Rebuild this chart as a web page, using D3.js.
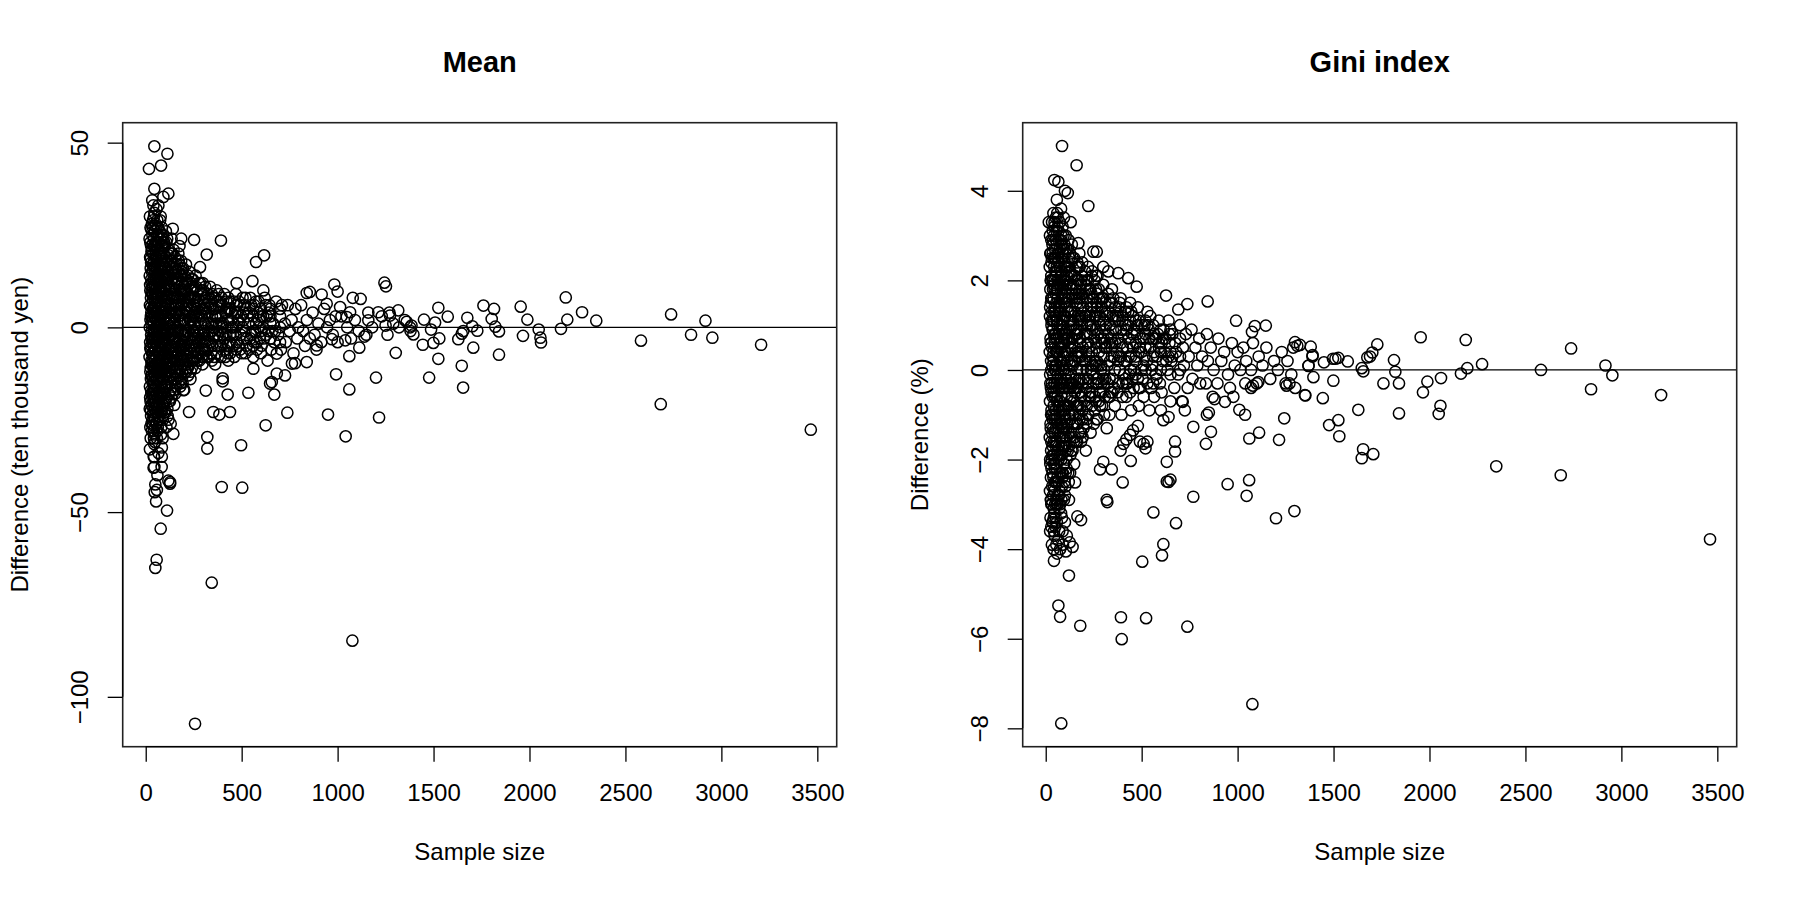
<!DOCTYPE html>
<html>
<head>
<meta charset="utf-8">
<script src="https://cdn.jsdelivr.net/npm/d3@7"></script>
<style>
  html, body { margin: 0; padding: 0; background: #fff; }
  svg { display: block; font-family: "Liberation Sans", Arial, Helvetica, sans-serif; }
</style>
</head>
<body>
<svg id="chart" width="1800" height="900"></svg>
<script>
// ---------------- DATA ----------------
const panelTitles = ["Mean", "Gini index"];
const yAxisTitles = ["Difference (ten thousand yen)", "Difference (%)"];
const xAxisTitle = "Sample size";
const xTicks = [0, 500, 1000, 1500, 2000, 2500, 3000, 3500];
const meanTicks = [-100, -50, 0, 50];
const giniTicks = [-8, -6, -4, -2, 0, 2, 4];

// Mean panel: [sample size, difference (ten thousand yen)]
const meanCore = [
[22,30],[25,27],[20,24],[28,22],[23,19],[26,16],[21,14],[30,12],[24,10],[27,8],[22,6],[29,4],[25,2],[21,0],[28,-2],[23,-4],[26,-6],[20,-8],[30,-10],[24,-12],[27,-14],[22,-16],[29,-18],[25,-20],[21,-22],[28,-24],[24,-27],[26,-30],[22,-33],
[40,33],[45,31],[38,29],[47,26],[42,24],[49,21],[39,20],[44,18],[48,15],[41,13],[46,11],[38,9],[50,7],[43,5],[47,3],[40,1],[45,-1],[49,-3],[42,-5],[38,-7],[46,-9],[41,-11],[48,-13],[44,-15],[39,-17],[47,-19],[43,-21],[40,-23],[46,-25],[42,-28],[48,-31],[44,-35],[41,-38],
[56,32],[60,29],[65,27],[58,25],[68,23],[62,21],[55,19],[66,17],[59,16],[63,14],[70,12],[57,11],[64,9],[60,7],[68,5],[55,4],[62,2],[67,0],[58,-1],[65,-3],[61,-5],[69,-7],[56,-8],[63,-10],[59,-12],[67,-14],[62,-16],[57,-18],[65,-20],[60,-22],[68,-24],[63,-27],[58,-30],[66,-34],[61,-40],
[78,30],[85,27],[90,25],[76,24],[82,22],[93,20],[79,18],[88,17],[84,15],[95,13],[77,12],[86,10],[91,9],[80,7],[89,5],[83,4],[94,2],[78,1],[87,-1],[92,-2],[81,-4],[90,-6],[76,-7],[85,-9],[94,-11],[80,-12],[88,-14],[83,-16],[92,-18],[78,-19],[86,-21],[90,-24],[81,-27],[88,-30],[84,-35],
[105,26],[112,24],[100,22],[118,21],[108,19],[122,17],[103,16],[115,15],[110,13],[120,11],[101,10],[113,8],[107,7],[124,5],[117,4],[104,3],[111,1],[121,0],[106,-2],[116,-3],[102,-5],[119,-6],[109,-8],[114,-10],[123,-11],[105,-12],[117,-14],[110,-16],[121,-18],[103,-20],[113,-22],[119,-25],[108,-27],
[135,24],[145,21],[152,19],[132,18],[140,16],[158,15],[137,13],[149,12],[155,10],[131,9],[143,8],[151,6],[138,5],[157,4],[134,2],[146,1],[154,-1],[139,-2],[148,-4],[133,-5],[156,-6],[142,-8],[150,-9],[136,-11],[153,-12],[144,-14],[131,-15],[158,-16],[141,-18],[149,-21],
[170,20],[185,18],[195,16],[168,15],[178,14],[190,12],[173,11],[198,10],[182,9],[166,8],[193,7],[176,5],[188,4],[170,3],[197,2],[181,1],[167,-1],[191,-2],[175,-3],[186,-5],[199,-6],[171,-7],[183,-8],[194,-10],[178,-11],[168,-13],[189,-14],[180,-16],[196,-17],
[210,17],[228,15],[245,13],[215,12],[236,11],[205,10],[222,9],[248,8],[213,7],[232,6],[241,5],[208,4],[226,3],[244,2],[218,1],[235,0],[206,-1],[249,-2],[224,-3],[212,-4],[238,-5],[217,-7],[246,-8],[229,-9],[209,-10],[240,-11],[221,-13],[233,-14],
[260,14],[285,12],[310,11],[270,10],[298,9],[258,8],[318,8],[280,7],[305,6],[265,5],[292,5],[315,4],[275,3],[300,2],[258,1],[288,1],[320,0],[268,-1],[295,-2],[312,-3],[278,-4],[262,-5],[302,-6],[286,-7],[316,-8],[270,-9],[296,-10],[259,-11],
[335,11],[370,10],[410,9],[350,8],[395,8],[440,7],[340,6],[380,6],[425,5],[360,5],[448,4],[345,3],[390,3],[430,2],[365,1],[405,1],[445,0],[338,-1],[385,-1],[420,-2],[355,-3],[400,-4],[438,-4],[372,-5],[412,-6],[342,-7],[392,-8],[430,-9],[362,-10],
[470,9],[520,8],[575,7],[490,6],[550,6],[600,5],[465,4],[510,4],[560,3],[590,2],[480,2],[535,1],[455,0],[505,0],[570,-1],[495,-2],[545,-3],[595,-3],[475,-4],[525,-5],[580,-6],[500,-7],[560,-8],[462,-8],
[620,8],[680,7],[740,6],[650,5],[710,6],[780,5],[630,3],[700,3],[760,2],[665,1],[725,1],[795,0],[640,-1],[690,-2],[750,-1],[615,-3],[670,-4],[730,-4],[790,-3],[655,-6],[705,-6],[770,-7],[635,-9],
[810,6],[870,4],[930,5],[990,3],[840,2],[900,1],[960,2],[820,-1],[880,-2],[945,0],[855,-3],[915,-4],[975,-2],[830,-5],[890,-6],
[1020,3],[1090,2],[1160,4],[1230,3],[1290,1],[1350,2],[1050,0],[1110,-1],[1180,0],[1260,-2],[1320,0],[1380,-1],[1070,-3],[1150,-2],[1270,4]
];
const meanCore2 = [
[33,28],[35,25],[32,21],[36,17],[33,15],[35,11],[32,9],[36,5],[34,3],[32,-1],[36,-3],[33,-7],[35,-9],[32,-13],[36,-15],[34,-19],[33,-21],[35,-25],[32,-28],
[52,28],[53,23],[51,19],[54,17],[52,13],[53,9],[51,6],[54,2],[52,0],[53,-4],[51,-6],[54,-10],[52,-12],[53,-16],[51,-20],[54,-23],[52,-26],
[73,26],[74,20],[72,16],[75,13],[73,10],[74,6],[72,3],[75,-1],[73,-3],[74,-6],[72,-10],[75,-13],[73,-17],[74,-21],[72,-25],
[97,23],[99,18],[96,14],[98,11],[100,6],[97,3],[99,-1],[96,-4],[98,-8],[100,-13],[97,-16],[99,-20],[96,-23],
[127,20],[128,14],[126,10],[129,6],[127,2],[128,-2],[126,-5],[129,-9],[127,-13],[128,-17],[126,-20],
[162,17],[163,12],[161,8],[164,4],[162,0],[163,-4],[161,-8],[164,-11],[162,-14],
[202,14],[203,9],[201,5],[204,2],[202,-2],[203,-5],[201,-9],[204,-12],
[252,11],[253,6],[251,3],[254,-1],[252,-3],[253,-6],[251,-9],
[327,9],[328,4],[326,1],[329,-2],[327,-5],[328,-8],
[300,5],[285,-3],[350,0],[375,3],[420,7],[455,-2],[475,6],[510,-3],[530,3],[565,-4],[585,4],[610,0],[640,4],[575,1],[540,-6],[505,8],[415,-8],[375,7],[345,-5],[310,-4],[290,9],[265,-7],[245,-4],[230,8],[215,-11]
];
const meanCore3 = [
[29,26.5],[30,20.5],[28,17.5],[29,13],[30,9.5],[28,5.5],[29,1],[30,-3],[28,-5],[29,-9],[30,-13],[28,-17],[29,-21],[30,-26],
[43,30],[43,22],[44,16.5],[42,12],[43,8],[44,4],[42,-0.5],[43,-2],[44,-8],[42,-12],[43,-16],[44,-20],[42,-24],[43,-30],
[62,27],[61,23],[62,18],[63,12],[61,8],[62,5],[63,1],[61,-3],[62,-7],[63,-11],[61,-15],[62,-19],[63,-23],[61,-28],
[81,25],[80,20],[82,16],[80,11],[81,8],[82,3],[80,-2],[81,-6],[82,-10],[80,-15],[81,-18],[82,-23],
[88,22],[89,14],[88,8],[89,0],[88,-4],[89,-11],[88,-17],[89,-25],
[108,23],[115,18],[109,14],[114,9],[108,5],[115,1],[109,-4],[114,-7],[108,-11],[115,-15],[109,-19],[114,-24],
[140,20],[147,17],[139,13],[146,9],[140,6],[147,3],[139,-1],[146,-3],[140,-7],[147,-10],[139,-13],[146,-17],
[176,17],[184,14],[177,10],[185,6],[176,2],[184,-1],[177,-5],[185,-9],[176,-12],[184,-15],
[221,14],[233,12],[220,8],[234,8],[221,4],[233,2],[220,-1],[234,-2],[221,-5],[233,-7],[220,-11],[234,-12],
[276,12],[290,10],[308,8],[277,6],[291,3],[307,1],[276,-2],[290,-4],[308,-6],[276,-7],[292,-8],
[360,8],[380,9],[400,6],[420,4],[440,5],[362,3],[382,1],[402,-2],[422,0],[442,-2],[360,-2],[380,-3],[400,0],[420,-5],[440,-7],[370,-7],
[485,7],[520,5],[560,5],[600,3],[650,3],[700,5],[485,1],[520,-1],[560,-1],[600,-1],[650,-3],[700,0],[485,-5],[520,-7],[560,-5],[600,-7],[650,1],[700,-4],[545,8],[625,6],[675,-1],[510,2],[590,0]
];
const meanCore4 = [
[24,23],[26,18.5],[23,11.5],[27,3],[24,-5.5],[26,-11],[23,-19],[27,-22.5],
[37,27],[36,22.5],[38,15.5],[37,7.5],[36,2],[38,-4],[37,-10.5],[36,-14],[38,-18],[37,-26.5],
[46,27.5],[47,22],[46,16],[47,9],[46,6],[47,-2.5],[46,-6],[47,-11],[46,-17],[47,-22],[46,-29],
[57,22],[58,14],[57,9],[58,3],[57,-2],[58,-5],[57,-11],[58,-14],[57,-21],[58,-26],
[67,25],[68,19.5],[67,14.5],[68,10],[67,3.5],[68,-2.5],[67,-9],[68,-12],[67,-17.5],[68,-21.5],
[84,24],[85,19],[84,12.5],[85,6],[84,0.5],[85,-4.5],[84,-11],[85,-16.5],[84,-22],
[93,23],[94,16],[93,10.5],[94,4],[93,-3],[94,-8],[93,-14],[94,-20.5],
[103,19],[104,13],[103,6],[104,0],[103,-7],[104,-10],[103,-16],[104,-23],
[119,19.5],[120,14],[119,8],[120,2],[119,-3],[120,-9],[119,-12],[120,-20],
[133,20],[134,15],[133,11],[134,4],[133,-2],[134,-8],[133,-12],[134,-19],
[152,16],[153,13],[152,8],[153,2],[152,-3],[153,-7],[152,-14],[153,-18],
[172,18],[171,13],[172,6],[171,-1],[172,-5],[171,-10],[172,-15],
[190,15],[191,9],[190,2],[191,-4],[190,-8],[191,-12],
[212,13],[213,6],[212,-1],[213,-6],[212,-12],
[242,10],[243,3],[242,-4],[243,-9],[263,11],[264,3],[263,-3],[264,-8],
[300,10],[302,-1],[300,-8],[345,9],[347,-1],[345,-9],[390,6],[392,-5],[430,8],[432,-5],[470,0],[470,-6]
];
const meanCore5 = [
[155,13],[160,6],[158,-3],[165,-9],[187,16],[180,8],[186,-1],[182,-6],[192,-15],[207,12],[216,5],[226,-6],[214,-8],[230,2],[239,13],[247,-1],[255,4],[256,-6],[268,7],[272,-3],[280,-9],[283,4],[294,-6],[297,12],[304,-2],[313,5],[322,-6],[330,7],[337,-4],[343,1],[352,5],[357,-8],[366,3],[377,-2],[386,7],[394,1],[408,-3],[415,4],[426,-7],[433,5],[446,2],[452,-5],[460,7],[468,-2],[478,4],[492,-6],[498,3],[515,6],[528,-3],[538,4],[552,-2],[566,6],[578,-4],[588,7],[604,-5],[612,3],[628,-2],[645,6],[660,-1]
];
const meanOuter = [
[45,49.0],[113,47.0],[17,42.9],[80,43.8],[45,37.5],[118,36.2],[92,35.3],[34,34.4],[66,33],[75,29],[141,26.7],[252,23.7],[392,23.5],[318,19.7],[575,17.7],[617,19.5],[185,24],[176,22],[283,16.3],[474,12.0],[556,12.5],[613,10.0],[839,9.3],[855,9.6],[917,8.9],[983,11.6],[1000,9.7],[1079,8.0],[1120,7.7],[1244,12.1],[1252,11.1],[1212,4.1],[1316,4.6],[1273,3.2],[1160,1.9],[1250,0.5],[1065,4.1],[1048,2.8],[1013,5.5],[943,6.4],
[1303,-6.9],[1200,-13.6],[1061,-7.8],[1061,-16.8],[992,-12.7],[1113,-5.5],[1140,-2.5],[1042,-29.5],[1216,-24.4],[950,-23.6],[738,-23.1],[762,-9.8],[778,-9.7],[726,-13.0],[683,-12.5],[657,-14.8],[648,-15.2],[670,-18.2],[625,-26.5],[497,-31.9],[321,-29.7],[321,-32.8],[396,-43.2],[503,-43.4],[226,-22.9],[384,-23.6],[352,-22.9],[439,-22.9],[535,-17.7],[427,-18.2],[401,-13.8],[401,-14.6],[313,-17.1],[201,-16.9],[144,-28.8],[127,-41.9],[118,-41.5],[50,-42.5],[58,-44],[45,-37.8],[83,-37.8],[42,-35.1],[44,-31.6],[84,-32.5],[80,-29],[130,-26.1],[127,-42.3],[47,-44.6],[54,-47.1],[111,-49.6],[78,-54.5],[57,-62.9],[50,-65.1],[344,-69.1],[1077,-84.8],[257,-107.3],[891,-4.9],[839,-9.4],[561,-11.2],[683,-7.1],[1040,-3.5],[1000,-4],[970,-3.2],
[3466,-27.7],[3207,-4.7],[2953,-2.8],[2917,1.8],[2842,-2.0],[2738,3.5],[2684,-20.8],[2581,-3.6],[2348,1.8],[2274,4.1],[2189,8.1],[2197,2.1],[2164,-0.4],[2060,-4.1],[2057,-2.8],[2048,-0.6],[1989,2.1],[1966,-2.3],[1954,5.6],[1841,-7.4],[1841,-1.1],[1822,0.2],[1803,2.3],[1815,5.0],[1760,5.9],[1728,-0.9],[1707,-5.5],[1702,0.3],[1676,2.6],[1654,-16.3],[1647,-10.4],[1655,-1.0],[1647,-1.7],[1629,-3.2],[1574,2.9],[1525,5.3],[1508,1.3],[1525,-8.5],[1530,-3.0],[1499,-4.2],[1487,-0.6],[1477,-13.6],[1450,2.1],[1444,-4.7],[1395,-1.9],[1385,0.5],[1378,0.0],[1360,1.5]
];

// Gini panel: [sample size, difference (%)]
const giniCore = [
[22,3.0],[26,2.6],[21,2.3],[29,2.1],[24,1.8],[27,1.5],[22,1.2],[30,1.0],[25,0.7],[21,0.4],[28,0.2],[23,-0.1],[27,-0.4],[22,-0.7],[30,-0.9],[25,-1.2],[21,-1.5],[28,-1.8],[24,-2.1],[27,-2.4],[22,-2.7],[29,-3.0],[25,-3.3],[23,-3.6],
[40,3.5],[45,3.2],[39,2.9],[48,2.7],[42,2.5],[50,2.2],[38,2.0],[46,1.8],[41,1.6],[49,1.3],[43,1.1],[38,0.9],[47,0.6],[42,0.4],[50,0.1],[39,-0.1],[45,-0.3],[48,-0.6],[41,-0.8],[46,-1.1],[39,-1.3],[50,-1.6],[43,-1.9],[47,-2.2],[40,-2.4],[45,-2.7],[49,-3.0],[42,-3.3],[46,-3.7],[41,-4.0],
[58,3.8],[63,3.4],[56,3.1],[68,2.9],[61,2.6],[66,2.4],[57,2.2],[70,2.0],[62,1.8],[55,1.5],[67,1.3],[60,1.1],[71,0.9],[58,0.7],[64,0.5],[69,0.3],[56,0.1],[62,-0.2],[67,-0.4],[59,-0.7],[71,-0.9],[55,-1.1],[64,-1.4],[68,-1.7],[60,-1.9],[57,-2.2],[66,-2.5],[62,-2.8],[70,-3.1],[58,-3.4],[65,-3.8],
[80,3.6],[88,3.2],[78,2.9],[93,2.7],[84,2.5],[97,2.3],[79,2.1],[90,1.9],[86,1.7],[95,1.5],[77,1.3],[89,1.1],[83,0.9],[96,0.7],[80,0.5],[91,0.3],[86,0.1],[78,-0.2],[94,-0.3],[82,-0.6],[90,-0.8],[98,-1.0],[79,-1.2],[87,-1.5],[93,-1.7],[81,-2.0],[89,-2.3],[84,-2.6],[95,-2.9],[80,-3.2],[88,-3.6],
[104,3.0],[115,2.7],[122,2.5],[101,2.3],[110,2.1],[126,1.9],[106,1.8],[118,1.6],[112,1.4],[102,1.2],[124,1.1],[108,0.9],[116,0.7],[127,0.5],[103,0.4],[113,0.2],[120,0.0],[107,-0.2],[125,-0.4],[111,-0.6],[101,-0.8],[119,-1.0],[114,-1.2],[105,-1.5],[123,-1.7],[109,-2.0],[117,-2.3],[103,-2.6],[121,-2.9],
[136,2.8],[148,2.5],[160,2.3],[133,2.1],[143,1.9],[155,1.8],[139,1.6],[162,1.5],[150,1.3],[134,1.1],[145,1.0],[157,0.8],[138,0.6],[152,0.5],[164,0.3],[141,0.1],[132,-0.1],[154,-0.2],[146,-0.4],[137,-0.6],[160,-0.8],[143,-1.0],[151,-1.2],[134,-1.4],[158,-1.6],[140,-1.8],[148,-2.1],
[175,2.6],[190,2.4],[205,2.2],[172,2.0],[185,1.9],[200,1.7],[178,1.5],[195,1.4],[208,1.2],[170,1.1],[188,1.0],[202,0.8],[180,0.6],[193,0.5],[174,0.3],[206,0.2],[186,0.0],[198,-0.2],[171,-0.3],[183,-0.5],[204,-0.7],[191,-0.9],[176,-1.1],[197,-1.3],[184,-1.6],[209,-1.8],
[220,2.3],[240,2.1],[255,2.0],[228,1.8],[248,1.6],[216,1.5],[236,1.4],[258,1.2],[224,1.1],[245,1.0],[232,0.8],[252,0.7],[218,0.6],[240,0.4],[227,0.3],[256,0.2],[235,0.0],[220,-0.2],[248,-0.3],[230,-0.5],[258,-0.6],[242,-0.8],[222,-1.0],[251,-1.2],[234,-1.4],
[270,2.1],[300,1.9],[325,1.7],[280,1.6],[312,1.5],[268,1.4],[295,1.3],[320,1.2],[285,1.0],[306,0.9],[272,0.8],[328,0.8],[292,0.6],[316,0.5],[278,0.4],[302,0.3],[266,0.2],[322,0.1],[288,0.0],[310,-0.2],[275,-0.3],[298,-0.5],[326,-0.6],[283,-0.8],[305,-1.0],[270,-1.1],[318,-1.3],
[345,1.8],[390,1.6],[440,1.5],[360,1.4],[415,1.3],[350,1.2],[455,1.2],[380,1.1],[430,1.0],[365,0.9],[405,0.8],[450,0.8],[340,0.7],[392,0.6],[425,0.5],[370,0.4],[445,0.3],[355,0.3],[410,0.2],[385,0.0],[435,-0.1],[348,-0.2],[400,-0.3],[458,-0.4],[375,-0.5],[420,-0.6],[360,-0.8],[445,-0.9],[395,-1.0],
[480,1.4],[530,1.3],[590,1.1],[500,1.0],[560,1.0],[615,0.9],[475,0.8],[520,0.8],[575,0.7],[605,0.6],[490,0.5],[545,0.5],[470,0.3],[515,0.3],[580,0.3],[610,0.2],[500,0.0],[555,0.1],[480,-0.2],[530,-0.3],[595,-0.3],[510,-0.6],[565,-0.6],[485,-0.8],[540,-0.9],[600,-0.9],
[640,1.1],[700,1.0],[760,0.9],[660,0.8],[730,0.8],[800,0.7],[645,0.6],[715,0.5],[780,0.5],[680,0.4],[745,0.3],[815,0.3],[655,0.2],[720,0.1],[790,0.1],[635,0.0],[690,-0.1],[765,-0.2],[670,-0.4],[740,-0.4],[805,-0.3],[650,-0.7],[710,-0.7],
[840,0.8],[900,0.7],[970,0.6],[1030,0.5],[860,0.5],[930,0.4],[1000,0.4],[845,0.2],[915,0.2],[985,0.1],[1045,0.2],[875,0.0],[950,-0.1],[1015,0.0],[835,-0.3],[895,-0.3],[960,-0.4],[1040,-0.3],
[1080,0.6],[1150,0.5],[1230,0.4],[1290,0.5],[1110,0.3],[1190,0.2],[1260,0.2],[1070,0.0],[1130,0.1],[1210,0.0],[1280,-0.1],[1100,-0.3],[1170,-0.2],[1250,-0.3]
];
const giniCore2 = [
[33,3.3],[35,2.8],[32,2.5],[36,2.0],[34,1.6],[32,1.3],[36,0.9],[33,0.5],[35,0.1],[32,-0.3],[36,-0.6],[34,-1.0],[33,-1.4],[35,-1.7],[32,-2.0],[36,-2.3],[34,-2.6],[33,-3.0],[35,-3.4],[32,-3.9],
[52,3.4],[53,2.9],[51,2.5],[54,2.1],[52,1.7],[53,1.2],[51,0.8],[54,0.4],[52,0.0],[53,-0.4],[51,-0.9],[54,-1.3],[52,-1.7],[53,-2.1],[51,-2.5],[54,-2.9],[52,-3.3],
[73,3.3],[74,2.7],[72,2.3],[75,1.9],[73,1.5],[74,1.0],[72,0.6],[75,0.2],[73,-0.3],[74,-0.7],[72,-1.1],[75,-1.5],[73,-1.9],[74,-2.3],[72,-2.7],[75,-3.0],
[97,2.8],[99,2.4],[96,2.0],[98,1.6],[100,1.2],[97,0.8],[99,0.4],[96,0.0],[98,-0.4],[100,-0.8],[97,-1.3],[99,-1.7],[96,-2.1],[98,-2.5],[100,-2.8],
[127,2.6],[128,2.2],[126,1.7],[129,1.3],[127,0.9],[128,0.5],[126,0.1],[129,-0.3],[127,-0.7],[128,-1.1],[126,-1.5],[129,-1.9],[127,-2.3],
[165,2.4],[166,2.0],[164,1.6],[167,1.2],[165,0.8],[166,0.4],[164,0.0],[167,-0.4],[165,-0.8],[166,-1.2],[164,-1.6],
[212,2.0],[213,1.6],[211,1.2],[214,0.8],[212,0.4],[213,0.0],[211,-0.4],[214,-0.8],[212,-1.2],
[262,1.8],[263,1.3],[261,0.9],[264,0.5],[262,0.1],[263,-0.3],[261,-0.7],[264,-1.1],
[333,1.5],[334,1.0],[332,0.6],[335,0.2],[333,-0.2],[334,-0.6],[332,-1.0],
[300,1.1],[290,0.1],[350,0.9],[375,1.2],[420,1.4],[455,0.5],[470,1.1],[510,0.1],[530,1.0],[565,0.4],[585,0.8],[620,0.4],[640,0.3],[575,-0.1],[540,0.7],[505,-0.2],[415,-0.2],[375,0.7],[345,0.3],[310,0.6],[290,1.4],[265,1.5],[245,-0.1],[230,1.2],[215,1.8],[400,1.1],[440,0.6],[460,0.0],[495,0.7],[550,-0.4]
];
const giniCore3 = [
[29,2.9],[30,2.4],[28,2.0],[29,1.6],[30,1.1],[28,0.6],[29,0.0],[30,-0.5],[28,-1.0],[29,-1.6],[30,-2.2],[28,-2.9],[29,-3.5],
[43,3.0],[44,2.3],[42,1.9],[43,1.3],[44,0.8],[42,0.2],[43,-0.5],[44,-1.0],[42,-1.6],[43,-2.1],[44,-2.6],[42,-3.1],[43,-3.6],
[62,3.2],[61,2.5],[62,2.0],[63,1.6],[61,1.0],[62,0.4],[63,-0.1],[61,-0.6],[62,-1.2],[63,-1.8],[61,-2.4],[62,-3.0],
[82,3.0],[88,2.6],[81,2.2],[87,1.8],[82,1.4],[88,0.8],[81,0.2],[87,-0.4],[82,-0.9],[88,-1.3],[81,-1.7],[87,-2.4],[82,-2.9],
[108,2.7],[115,2.3],[109,1.9],[114,1.3],[108,0.7],[115,0.3],[109,-0.3],[114,-0.8],[108,-1.3],[115,-1.8],[109,-2.2],
[140,2.5],[147,2.1],[139,1.7],[146,1.2],[140,0.7],[147,0.2],[139,-0.3],[146,-0.7],[140,-1.2],[147,-1.6],
[177,2.3],[185,2.0],[176,1.6],[184,1.1],[177,0.7],[185,0.3],[176,-0.2],[184,-0.6],[177,-1.0],[185,-1.4],
[221,2.0],[233,1.8],[220,1.3],[234,1.0],[221,0.6],[233,0.2],[220,-0.3],[234,-0.6],[221,-1.0],
[276,1.8],[290,1.6],[308,1.3],[277,1.1],[291,0.7],[307,0.5],[276,0.1],[290,-0.3],[308,-0.6],[277,-0.7],
[360,1.1],[380,1.4],[400,1.2],[420,0.9],[440,1.1],[362,0.6],[382,0.3],[402,0.5],[422,0.2],[442,0.0],[360,0.0],[380,-0.3],[400,-0.6],[420,-0.3],[440,-0.5],
[485,1.1],[520,1.1],[560,0.7],[600,0.9],[650,0.9],[700,0.7],[485,0.4],[520,0.5],[560,0.3],[600,0.4],[650,0.4],[700,0.3],[485,-0.4],[520,0.0],[560,-0.3],[600,0.0],[650,-0.1],[700,0.0],[545,1.2],[625,0.7],[675,0.6],[510,0.7],[590,0.5]
];
const giniCore4 = [
[24,2.6],[26,2.0],[23,1.4],[27,0.6],[24,-0.3],[26,-1.3],[23,-2.0],[27,-2.9],
[37,3.1],[36,2.6],[38,1.8],[37,1.1],[36,0.3],[38,-0.4],[37,-1.1],[36,-1.9],[38,-2.8],[37,-3.4],
[46,3.3],[47,2.5],[46,2.0],[47,1.4],[46,0.7],[47,0.0],[46,-0.6],[47,-1.4],[46,-2.0],[47,-2.5],[46,-3.2],
[57,2.8],[58,2.3],[57,1.8],[58,1.1],[57,0.4],[58,-0.3],[57,-1.0],[58,-1.6],[57,-2.5],[58,-3.0],
[67,3.1],[68,2.6],[67,1.9],[68,1.4],[67,0.8],[68,0.0],[67,-0.8],[68,-1.3],[67,-2.0],[68,-2.8],
[84,2.8],[85,2.2],[84,1.6],[85,1.0],[84,0.4],[85,-0.3],[84,-1.2],[85,-1.9],[84,-2.3],
[93,3.0],[94,2.0],[93,1.2],[94,0.6],[93,0.0],[94,-0.9],[93,-1.4],[94,-2.1],
[103,2.6],[104,2.0],[103,1.5],[104,0.8],[103,-0.1],[104,-1.1],[103,-1.8],[104,-2.3],
[119,2.9],[120,2.2],[119,1.3],[120,0.6],[119,-0.4],[120,-0.8],[119,-1.4],[120,-2.5],
[133,2.4],[134,1.8],[133,1.3],[134,0.7],[133,0.2],[134,-0.3],[133,-0.9],[134,-1.8],
[152,2.1],[153,1.6],[152,0.9],[153,0.2],[152,-0.5],[153,-1.0],[152,-1.5],
[172,2.3],[171,1.7],[172,0.9],[171,0.4],[172,-0.2],[171,-0.8],[172,-1.4],
[190,2.1],[191,1.6],[190,1.2],[191,0.2],[190,-0.3],[191,-1.1],
[242,2.2],[243,1.4],[242,0.9],[243,0.1],[242,-0.5],[263,2.1],[264,1.5],[263,0.6],[264,-0.2],
[300,1.6],[302,0.7],[300,-0.2],[345,1.5],[347,0.6],[345,-0.5],[390,1.3],[392,0.3],[430,1.3],[432,0.3],[470,0.6],[470,-0.1]
];
const giniCore5 = [
[155,1.7],[160,0.9],[158,-0.4],[165,-1.2],[187,1.7],[180,1.2],[186,0.4],[182,-0.8],[192,-1.5],[207,1.9],[216,1.0],[226,-0.6],[214,-1.1],[230,0.5],[239,1.7],[247,0.1],[255,1.2],[256,-0.9],[268,1.7],[272,-0.2],[280,-0.5],[283,1.2],[294,-0.8],[297,1.6],[304,0.0],[313,1.0],[322,-0.3],[330,1.3],[337,-0.5],[343,0.5],[352,1.6],[357,-0.4],[366,1.2],[377,0.2],[386,1.5],[394,0.9],[408,-0.1],[415,1.0],[426,-0.3],[433,0.7],[446,1.3],[452,-0.2],[460,0.9],[468,0.2],[478,1.0],[492,-0.4],[498,0.4],[515,1.0],[528,0.2],[538,0.9],[552,0.0],[566,0.8],[578,-0.2],[588,0.6],[604,-0.5],[612,0.7],[628,0.2],[645,0.8],[660,0.3]
];
const giniOuter = [
[85,5.0],[161,4.57],[45,4.24],[66,4.2],[100,4.0],[115,3.95],[222,3.66],[16,3.30],[60,3.5],[95,3.4],[130,3.3],[170,2.83],[248,2.64],[266,2.64],[300,2.3],[326,2.2],[378,2.16],[430,2.05],[474,1.86],[627,1.66],[691,1.35],[738,1.47],[844,1.53],[992,1.10],[1147,0.99],[1075,0.85],[1090,0.98],[1299,0.62],[1311,0.54],[1381,0.52],[1390,0.3],[1370,0.1],[1351,-0.56],[1243,-1.08],[1216,-1.56],[1112,-1.40],[1061,-1.53],[1060,-2.46],[948,-2.55],[1047,-2.81],[769,-2.83],[861,-1.38],[835,-1.65],[769,-1.27],[674,-1.6],[674,-1.82],[631,-2.05],[631,-2.49],[650,-2.45],[401,-2.51],[443,-2.03],[344,-2.22],[283,-2.22],[300,-2.05],[318,-2.9],[390,-1.8],[405,-1.65],[420,-1.55],[440,-1.45],[455,-1.35],[480,-1.25],[491,-1.6],[510,-1.65],[530,-1.6],[520,-1.75],[613,-1.12],[640,-1.05],[714,-0.71],[725,-0.9],[840,-1.0],[850,-0.95],[870,-0.6],[880,-0.65],[934,-0.71],[978,-0.6],[1009,-0.89],[1039,-1.0],[1070,-0.4],[1080,-0.35],[1108,-0.27],[1255,-0.35],[1270,-0.3],[1300,-0.4],
[81,-7.89],[1077,-7.46],[396,-6.01],[392,-5.52],[523,-5.54],[738,-5.73],[180,-5.71],[66,-5.26],[75,-5.51],[121,-4.59],[43,-4.26],[60,-4.1],[75,-4.0],[90,-3.9],[105,-4.05],[125,-3.85],[140,-3.95],[503,-4.28],[606,-4.14],[613,-3.89],[679,-3.42],[561,-3.18],[321,-2.95],[1200,-3.31],[1296,-3.15],[640,-2.5],[184,-3.35],[165,-3.27],[153,-2.51],[50,-3.5],[70,-3.6],[85,-3.3],[100,-3.4],[110,-3.7],[55,-3.9],
[3462,-3.78],[3207,-0.56],[2953,-0.12],[2917,0.10],[2842,-0.43],[2738,0.48],[2684,-2.35],[2581,0.0],[2348,-2.15],[2274,0.13],[2189,0.67],[2197,0.04],[2164,-0.08],[2060,-0.18],[2057,-0.80],[2048,-0.98],[1989,-0.26],[1966,-0.50],[1954,0.73],[1841,-0.97],[1841,-0.30],[1822,-0.04],[1815,0.22],[1760,-0.30],[1728,0.57],[1707,-1.88],[1702,0.39],[1690,0.3],[1676,0.28],[1654,-1.77],[1647,-1.97],[1655,-0.03],[1647,0.04],[1629,-0.89],[1574,0.19],[1525,0.27],[1510,0.25],[1497,0.25],[1525,-1.12],[1530,-1.48],[1499,-0.24],[1477,-1.23],[1450,0.17],[1444,-0.63],[1395,-0.16],[1391,0.33],[1325,0.56],[1369,0.09],[1353,-0.57]
];

// ---------------- DRAW ----------------
const svg = d3.select("#chart");
const FONT = 24;

const panels = [
  { left: 122.7, title: panelTitles[0], ylab: yAxisTitles[0], yDomain: [-113.5, 55.4], yTicks: meanTicks, pts: meanCore.concat(meanCore2, meanCore3, meanCore4, meanCore5, meanOuter) },
  { left: 1022.7, title: panelTitles[1], ylab: yAxisTitles[1], yDomain: [-8.41, 5.52], yTicks: giniTicks, pts: giniCore.concat(giniCore2, giniCore3, giniCore4, giniCore5, giniOuter) }
];
const boxW = 714, plotTop = 122.7, plotBottom = 746.7;

panels.forEach(p => {
  const x = d3.scaleLinear().domain([-120, 3601]).range([p.left, p.left + boxW]);
  const y = d3.scaleLinear().domain(p.yDomain).range([plotBottom, plotTop]);
  const g = svg.append("g");

  // zero reference line
  g.append("line")
    .attr("x1", p.left).attr("x2", p.left + boxW)
    .attr("y1", y(0)).attr("y2", y(0))
    .attr("stroke", "#000").attr("stroke-width", 1.3);

  // points
  g.append("g").selectAll("circle").data(p.pts).join("circle")
    .attr("cx", d => x(d[0])).attr("cy", d => y(d[1]))
    .attr("r", 5.6)
    .attr("fill", "none").attr("stroke", "#000").attr("stroke-width", 1.5);

  // box
  g.append("rect")
    .attr("x", p.left).attr("y", plotTop).attr("width", boxW).attr("height", plotBottom - plotTop)
    .attr("fill", "none").attr("stroke", "#222").attr("stroke-width", 1.6);

  // x axis
  const xa = g.append("g").attr("transform", `translate(0,${plotBottom})`)
    .call(d3.axisBottom(x).tickValues(xTicks).tickFormat(d3.format("d")).tickSize(15).tickSizeOuter(0));
  xa.select(".domain").attr("d", `M${x(xTicks[0])},0H${x(xTicks[xTicks.length-1])}`).attr("stroke", "#000").attr("stroke-width", 1.3);
  xa.selectAll(".tick line").attr("stroke", "#000").attr("stroke-width", 1.3);
  xa.selectAll(".tick text").attr("y", 54).attr("dy", 0)
    .attr("font-size", FONT).attr("font-family", "Liberation Sans, Arial, sans-serif").attr("fill", "#000");

  // y axis
  const ya = g.append("g").attr("transform", `translate(${p.left},0)`)
    .call(d3.axisLeft(y).tickValues(p.yTicks).tickFormat(d => d < 0 ? "\u2212" + Math.abs(d) : String(d)).tickSize(15).tickSizeOuter(0));
  ya.select(".domain").attr("d", `M0,${y(p.yTicks[0])}V${y(p.yTicks[p.yTicks.length-1])}`).attr("stroke", "#000").attr("stroke-width", 1.3);
  ya.selectAll(".tick line").attr("stroke", "#000").attr("stroke-width", 1.3);
  ya.selectAll(".tick text")
    .attr("transform", "rotate(-90)")
    .attr("x", 0).attr("y", -35).attr("dy", 0)
    .attr("text-anchor", "middle")
    .attr("font-size", FONT).attr("font-family", "Liberation Sans, Arial, sans-serif").attr("fill", "#000");

  // title
  g.append("text")
    .attr("x", p.left + boxW / 2).attr("y", 72)
    .attr("text-anchor", "middle").attr("font-weight", "bold").attr("font-size", 29)
    .text(p.title);

  // x label
  g.append("text")
    .attr("x", p.left + boxW / 2).attr("y", 860)
    .attr("text-anchor", "middle").attr("font-size", FONT)
    .text(xAxisTitle);

  // y label
  g.append("text")
    .attr("transform", `translate(${p.left - 95},${(plotTop + plotBottom) / 2}) rotate(-90)`)
    .attr("text-anchor", "middle").attr("font-size", FONT)
    .text(p.ylab);
});
</script>
</body>
</html>
